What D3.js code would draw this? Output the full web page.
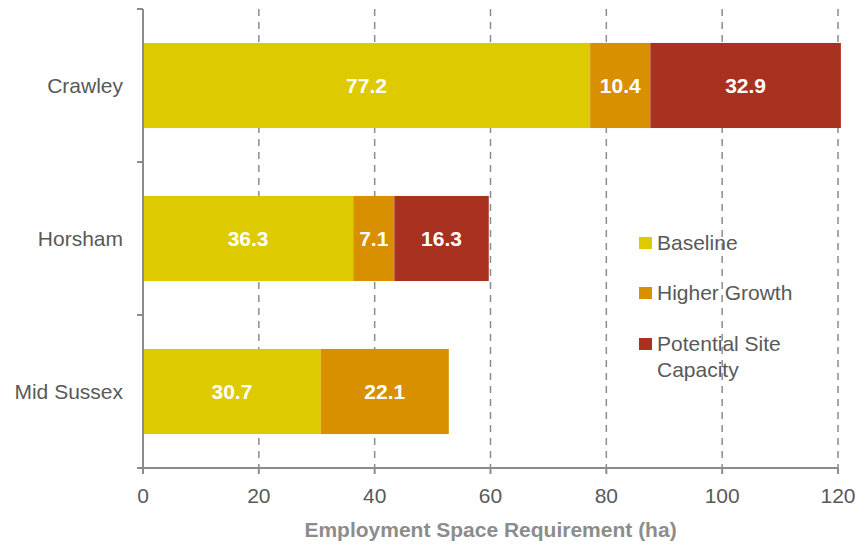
<!DOCTYPE html>
<html><head><meta charset="utf-8">
<script src="https://cdn.jsdelivr.net/npm/d3@7/dist/d3.min.js"></script>
<style>body{margin:0;background:#fff}</style>
</head><body>
<svg id="chart" width="860" height="546"></svg>
<script>
const categories = ["Crawley", "Horsham", "Mid Sussex"];
const seriesNames = ["Baseline", "Higher Growth", "Potential Site Capacity"];
const baseline = [77.2, 36.3, 30.7];
const higherGrowth = [10.4, 7.1, 22.1];
const potentialSite = [32.9, 16.3, 0];
const xTicks = [0, 20, 40, 60, 80, 100, 120];
const colors = ["#DECA00", "#D88F00", "#A93120"];

const svg = d3.select("#chart");
const m = {left: 143, top: 9};
const x = d3.scaleLinear().domain([0, 120]).range([m.left, 838]);
const y = d3.scaleBand().domain(categories).range([m.top, 468]).paddingInner(0.444).paddingOuter(0.222);
const font = "'Liberation Sans', Arial, sans-serif";
const narrow = "'Liberation Sans Narrow', 'Liberation Sans', sans-serif";

// gridlines
svg.append("g").selectAll("line").data(xTicks.filter(d => d > 0)).join("line")
  .attr("x1", d => x(d)).attr("x2", d => x(d)).attr("y1", m.top).attr("y2", 468)
  .attr("stroke", "#8c8c8c").attr("stroke-width", 1.5).attr("stroke-dasharray", "7,6");

const rows = categories.map((c, i) => ({cat: c, vals: [baseline[i], higherGrowth[i], potentialSite[i]]}));
rows.forEach(r => {
  let acc = 0;
  r.vals.forEach((v, j) => {
    if (v <= 0) return;
    const x0 = acc, x1 = acc + v; acc = x1;
    svg.append("rect").attr("x", x(x0)).attr("width", x(x1) - x(x0))
      .attr("y", y(r.cat)).attr("height", y.bandwidth()).attr("fill", colors[j]);
    svg.append("text").attr("x", (x(x0) + x(x1)) / 2).attr("y", y(r.cat) + y.bandwidth() / 2)
      .attr("dy", "0.35em").attr("text-anchor", "middle").attr("fill", "#fff")
      .attr("font-family", font).attr("font-weight", "bold").attr("font-size", 21)
      .text(v.toFixed(1));
  });
});

// y axis
const yAxis = svg.append("g");
yAxis.append("line").attr("x1", m.left).attr("x2", m.left).attr("y1", m.top).attr("y2", 468)
  .attr("stroke", "#8c8c8c").attr("stroke-width", 2);
const yTickPos = [m.top, ...categories.map(c => y(c) + y.bandwidth() / 2 + y.step() / 2)];
yAxis.selectAll("line.t").data(yTickPos).join("line").attr("class", "t")
  .attr("x1", m.left - 6).attr("x2", m.left).attr("y1", d => d).attr("y2", d => d)
  .attr("stroke", "#8c8c8c").attr("stroke-width", 2);
yAxis.selectAll("text").data(categories).join("text")
  .attr("x", 123).attr("y", d => y(d) + y.bandwidth() / 2).attr("dy", "0.35em")
  .attr("text-anchor", "end").attr("fill", "#595959").attr("font-family", font).attr("font-size", 21)
  .text(d => d);

// x axis
const xAxis = svg.append("g");
xAxis.append("line").attr("x1", m.left - 6).attr("x2", x(120)).attr("y1", 468).attr("y2", 468)
  .attr("stroke", "#8c8c8c").attr("stroke-width", 2);
xAxis.selectAll("line.t").data(xTicks).join("line").attr("class", "t")
  .attr("x1", d => x(d)).attr("x2", d => x(d)).attr("y1", 468).attr("y2", 474)
  .attr("stroke", "#8c8c8c").attr("stroke-width", 2);
xAxis.selectAll("text").data(xTicks).join("text")
  .attr("x", d => x(d)).attr("y", 496).attr("dy", "0.35em").attr("text-anchor", "middle")
  .attr("fill", "#595959").attr("font-family", narrow).attr("font-size", 21)
  .text(d => d);
svg.append("text").attr("x", x(60)).attr("y", 530).attr("dy", "0.35em").attr("text-anchor", "middle")
  .attr("fill", "#8c8c8c").attr("font-family", narrow)
  .attr("font-weight", "bold").attr("font-size", 21).text("Employment Space Requirement (ha)");

// legend
const legY = [243, 293, 344];
const leg = svg.append("g");
seriesNames.forEach((s, i) => {
  leg.append("rect").attr("x", 639).attr("y", legY[i] - 6).attr("width", 13).attr("height", 12).attr("fill", colors[i]);
  const t = leg.append("text").attr("x", 657).attr("y", legY[i]).attr("dy", "0.35em")
    .attr("fill", "#595959").attr("font-family", font).attr("font-size", 21);
  if (i === 2) {
    t.append("tspan").attr("x", 657).text("Potential Site");
    t.append("tspan").attr("x", 657).attr("dy", "1.2em").text("Capacity");
  } else t.text(s);
});
</script>
</body></html>
